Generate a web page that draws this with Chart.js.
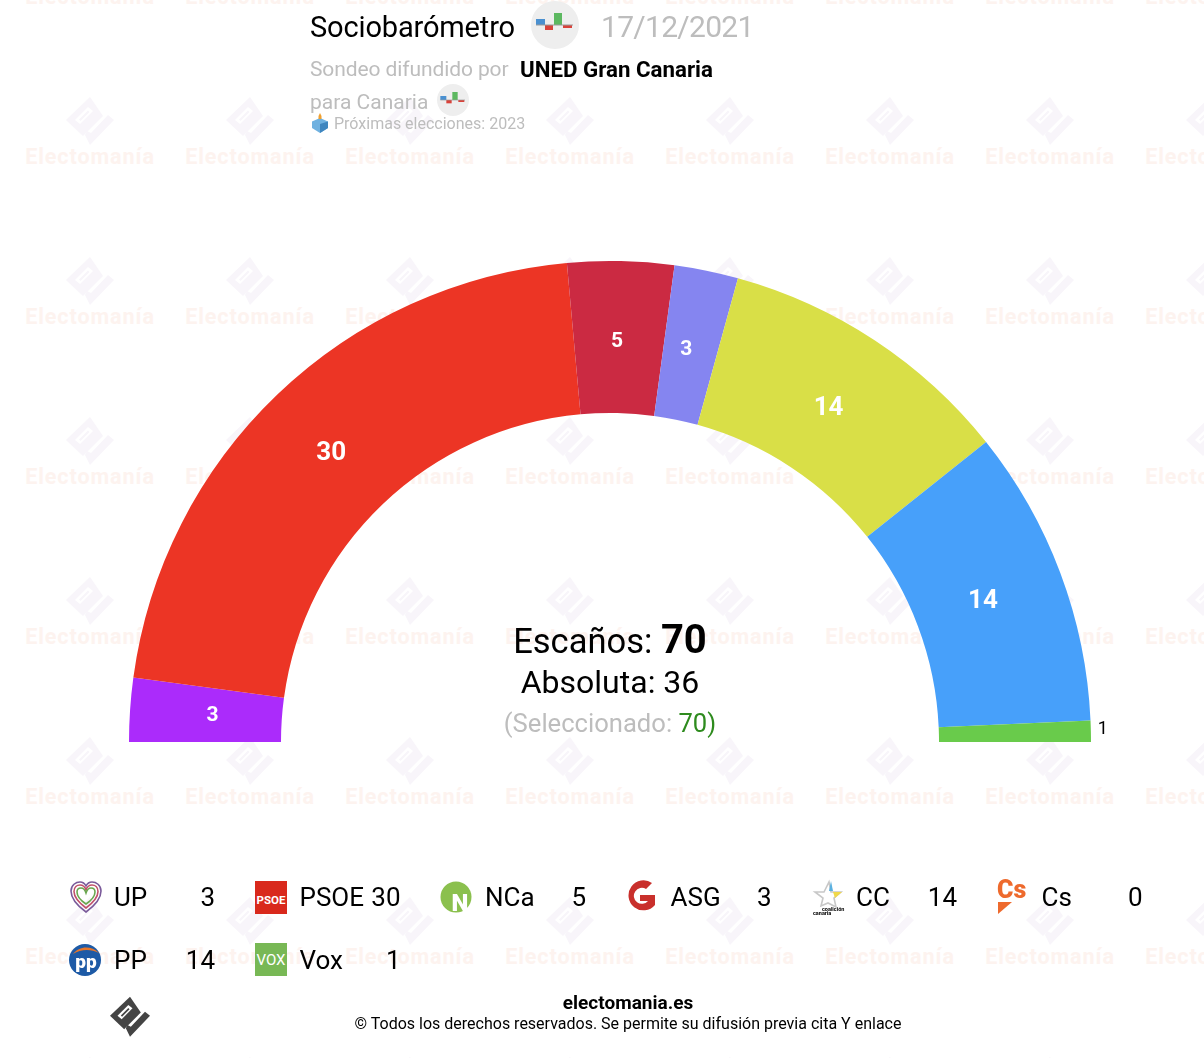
<!DOCTYPE html>
<html lang="es">
<head>
<meta charset="utf-8">
<title>Sociobarómetro</title>
<script src="https://cdn.jsdelivr.net/npm/chart.js@4"></script>
<style>
  html, body { margin: 0; padding: 0; background: #fff; }
  body { position: relative; width: 1204px; height: 1058px; overflow: hidden; font-family: Roboto, sans-serif; color: #000; }
  .abs { position: absolute; white-space: nowrap; line-height: 1; }
  .grey { color: #bdbdbd; }
  #watermark { position: absolute; inset: 0; z-index: 0; }
  #watermark .mark { position: absolute; width: 160px; text-align: center; }
  #watermark svg { position: absolute; left: 50px; top: 0; width: 60px; height: 60px; }
  #watermark span { position: absolute; left: 0; right: 0; top: 49px; font-size: 21.5px; font-weight: 700; letter-spacing: .95px; color: #fdf3ef; }
  #chart { position: absolute; left: 0; top: 0; z-index: 1; }
  .top { z-index: 2; }
  #center { position: absolute; left: 410px; width: 400px; top: 0; text-align: center; z-index: 2; }
  #center div { position: absolute; left: 0; right: 0; line-height: 1; white-space: nowrap; }
  .item { position: absolute; width: 150px; height: 36px; z-index: 2; font-size: 26px; }
  .item svg { position: absolute; left: -1px; top: 0; width: 34px; height: 36px; }
  .item .name { position: absolute; left: 44px; top: 5px; line-height: 1; }
  .item .val { position: absolute; right: 5px; top: 5px; line-height: 1; }
</style>
</head>
<body>
<div id="watermark"></div>
<canvas id="chart" width="1204" height="1058"></canvas>

<div class="abs top" style="left:310px;top:13px;font-size:29px;letter-spacing:-.15px">Sociobarómetro</div>
<svg class="abs top" style="left:531px;top:1px" width="48" height="48" viewBox="0 0 48 48"><use href="#poll"/></svg>
<div class="abs top grey" style="left:601px;top:12px;font-size:30px;letter-spacing:-.7px">17/12/2021</div>
<div class="abs top grey" style="left:310px;top:59px;font-size:21px;letter-spacing:-.1px">Sondeo difundido por</div>
<div class="abs top" style="left:520px;top:58px;font-size:22.3px;font-weight:700">UNED Gran Canaria</div>
<div class="abs top grey" style="left:310px;top:92px;font-size:21px">para Canaria</div>
<svg class="abs top" style="left:437px;top:84px" width="32" height="32" viewBox="0 0 48 48"><use href="#poll"/></svg>
<svg class="abs top" style="left:311px;top:113px" width="18" height="20" viewBox="0 0 18 20">
  <path d="M9 5 17 8.5V15L9 20 1 15V8.5Z" fill="#6fb1e0"/><path d="M9 11 17 8.5V15L9 20Z" fill="#3f86bf"/><path d="M7.5 6V3L9 0l1.5 3v3Z" fill="#f0a030"/>
</svg>
<div class="abs top grey" style="left:334px;top:116px;font-size:16px">Próximas elecciones: 2023</div>

<div id="center">
  <div style="top:620px;font-size:34.5px">Escaños: <b style="font-size:40px">70</b></div>
  <div style="top:666px;font-size:32px">Absoluta: 36</div>
  <div class="grey" style="top:711px;font-size:25.6px">(Seleccionado: <span style="color:#2e8b1e">70)</span></div>
</div>

<div id="legend"></div>

<svg class="abs top" style="left:105px;top:995px" width="50" height="50" viewBox="0 0 60 60" color="#444"><use href="#elogo"/></svg>
<div class="abs top" style="left:628px;top:993px;font-size:19px;font-weight:700;transform:translateX(-50%)">electomania.es</div>
<div class="abs top" style="left:628px;top:1016px;font-size:16px;transform:translateX(-50%)">© Todos los derechos reservados. Se permite su difusión previa cita Y enlace</div>

<svg width="0" height="0" style="position:absolute">
  <defs>
    <g id="poll">
      <circle cx="24" cy="24" r="24" fill="#eeeeee"/>
      <rect x="5" y="18" width="9" height="6" fill="#4a90d0"/>
      <rect x="14" y="24" width="8" height="5" fill="#d9423a"/>
      <rect x="23" y="12" width="8" height="12" fill="#5cb860"/>
      <rect x="32" y="24" width="9" height="3" fill="#d9423a"/>
      <rect x="5" y="23.5" width="37" height="1" fill="#999"/>
    </g>
    <g id="elogo">
      <path d="M30 2 6 25 23 41 43 21Z" fill="currentColor"/>
      <path d="M15 25 28 12 33 16 20 29Z" fill="#fff"/>
      <path d="M19 24.5 28 15.5 29.5 17 20.5 26Z" fill="currentColor"/>
      <path d="M25 40 30 50 54 25 48 20 31 38 27 36Z" fill="currentColor"/>
    </g>
  </defs>
</svg>

<script>
const parties = ["UP", "PSOE", "NCa", "ASG", "CC", "Cs", "PP", "Vox"]
const seats = [3, 30, 5, 3, 14, 0, 14, 1]
const colors = ["#ab2bfb", "#ec3525", "#cb2a42", "#8585f0", "#d9df47", "#e8622c", "#47a0fa", "#69cb4b"]

// logos redrawn by hand, close enough at this size
const logos = {
  UP: '<g fill="none" stroke-width="1.6"><path d="M17 33C6 25 2 19 2 12 2 6 7 3 11 3c3 0 5 2 6 4 1-2 3-4 6-4 4 0 9 3 9 9 0 7-4 13-15 21Z" stroke="#7a5a9a"/><path d="M17 29C9 23 5 18 5 12.500 5 8 8 6 11 6c3 0 5 2 6 5 1-3 3-5 6-5 3 0 6 2 6 6.500C29 18 25 23 17 29Z" stroke="#c0506a"/><path d="M17 25C11 21 8 17 8 13c0-3 2-4 4-4 2 0 4 2 5 5 1-3 3-5 5-5 2 0 4 1 4 4 0 4-3 8-9 12Z" stroke="#6aa84f"/></g>',
  PSOE: '<rect x="0" y="2" width="32" height="33" fill="#d9291c"/><text x="16" y="25" font-size="11.500" font-weight="700" fill="#fff" text-anchor="middle" font-family="Roboto">PSOE</text>',
  NCa: '<circle cx="16" cy="18" r="15.500" fill="#8bc04e"/><text x="20" y="32" font-size="24" font-weight="900" fill="#fff" text-anchor="middle" font-family="Roboto">N</text>',
  ASG: '<path d="M26 4A15 15 0 1 0 29 26V16H14V22H22A8 8 0 1 1 20 10Z" fill="#c9302c"/>',
  CC: '<path d="M4 13H13L18 3 20 13H30L23 19 25 28 17 24 10 27 12 19Z" fill="none" stroke="#c8c8c8" stroke-width="1.600"/><path d="M20 2 18 12H22Z" fill="#5ab0e0"/><path d="M22 13H31L24 19Z" fill="#f0d84a"/><text x="11" y="32" font-size="5.500" font-weight="700" font-family="Roboto">coalición</text><text x="2" y="36" font-size="5.500" font-weight="700" font-family="Roboto">canaria</text>',
  Cs: '<text x="0" y="19" font-size="25" font-weight="900" fill="#ee6a2d" font-family="Roboto">Cs</text><path d="M1 23H15L1 35Z" fill="#ee6a2d"/>',
  PP: '<circle cx="16" cy="18" r="16" fill="#1d5aa6"/><path d="M4 12C10 4 22 3 30 11 22 7 12 7 4 12Z" fill="#e8762a"/><text x="17" y="26" font-size="19" font-weight="900" fill="#fff" text-anchor="middle" font-family="Roboto">pp</text>',
  Vox: '<rect x="0" y="1" width="32" height="33" fill="#78b855"/><text x="16" y="23" font-size="15" fill="#fff" text-anchor="middle" font-family="Roboto">VOX</text>'
}

// watermark tiles
const wm = document.getElementById("watermark")
for (let row = -1; row < 7; row++) {
  for (let col = 0; col < 8; col++) {
    const m = document.createElement("div")
    m.className = "mark"
    m.style.left = (10 + col * 160) + "px"
    m.style.top = (95 + row * 160) + "px"
    m.innerHTML = '<svg viewBox="0 0 60 60" color="#f8f5fa"><use href="#elogo"/></svg><span>Electomanía</span>'
    wm.appendChild(m)
  }
}

// legend, 6 per row
const legend = document.getElementById("legend")
parties.forEach((p, i) => {
  const el = document.createElement("div")
  el.className = "item"
  el.style.left = (70 + (i % 6) * 185.5) + "px"
  el.style.top = (879 + Math.floor(i / 6) * 63) + "px"
  el.innerHTML = `<svg viewBox="0 0 34 36">${logos[p]}</svg><span class="name">${p}</span><span class="val">${seats[i]}</span>`
  legend.appendChild(el)
})

// hand nudges for the two narrow slices
const labelNudge = { UP: 4, ASG: -2 }

const seatLabels = {
  id: "seatLabels",
  afterDatasetsDraw(chart) {
    const { ctx } = chart
    chart.getDatasetMeta(0).data.forEach((arc, i) => {
      const value = seats[i]
      if (!value) return
      const { x, y, startAngle, endAngle, innerRadius, outerRadius } = arc.getProps(["x", "y", "startAngle", "endAngle", "innerRadius", "outerRadius"], true)
      const mid = (startAngle + endAngle) / 2
      const small = value === 1
      const r = small ? outerRadius + 12 : innerRadius + (outerRadius - innerRadius) * 0.47
      const dx = small ? 0 : -2 + (labelNudge[parties[i]] || 0)
      const dy = small ? -1 : 0.5
      ctx.save()
      ctx.textAlign = "center"
      ctx.textBaseline = "middle"
      ctx.fillStyle = small ? "#000" : "#fff"
      ctx.font = small ? "18px Roboto" : `700 ${value >= 14 ? 26 : 21}px Roboto`
      ctx.fillText(value, x + Math.cos(mid) * r + dx, y + Math.sin(mid) * r + dy)
      ctx.restore()
    })
  }
}

new Chart(document.getElementById("chart"), {
  type: "doughnut",
  data: {
    labels: parties,
    datasets: [{
      data: seats,
      backgroundColor: colors,
      borderWidth: 0
    }]
  },
  options: {
    responsive: false,
    animation: false,
    rotation: -90,
    circumference: 180,
    cutout: "68.4%",
    layout: {
      padding: { left: 129, right: 113, top: 261, bottom: 316 }
    },
    events: [],
    plugins: {
      legend: { display: false },
      tooltip: { enabled: false }
    }
  },
  plugins: [seatLabels]
})
</script>
</body>
</html>
